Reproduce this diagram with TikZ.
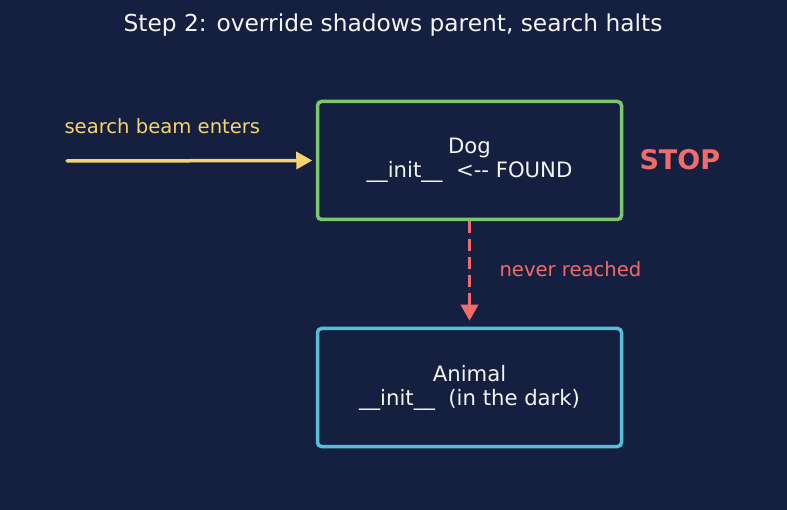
\documentclass[tikz,border=0pt]{standalone}
\usepackage{fontspec}
\setmainfont{DejaVu Sans}
\usetikzlibrary{positioning, arrows.meta}
\definecolor{bgnavy}{HTML}{152040}
\definecolor{ink}{HTML}{F4F4F4}
\definecolor{accentG}{HTML}{7BC86C}
\definecolor{accentB}{HTML}{56BEDB}
\definecolor{accentY}{HTML}{F5D36E}
\definecolor{accentR}{HTML}{F26B6B}

\begin{document}
\begin{tikzpicture}[
  x=1pt, y=-1pt,
  box/.style={rectangle, draw, line width=3.5pt, rounded corners=4pt,
              minimum width=304pt, minimum height=118pt,
              align=center, fill=bgnavy, text=ink,
              font=\fontsize{21.2}{24}\selectfont},
  lbl/.style={font=\fontsize{19.6}{22}\selectfont, anchor=west},
  arr/.style={-{Triangle[length=16pt, width=17pt]}, line width=3.5pt}
]
\fill[bgnavy] (0,0) rectangle (787,510);
\useasboundingbox (0,0) rectangle (787,510);

\node[text=ink, font=\fontsize{23.3}{28}\selectfont] (title) at (393,25)
  {Step 2: override shadows parent, search halts};

\node[box, draw=accentG] (dog) at (469.5,160.5) {Dog\\\_\_init\_\_\ \ <-{}- FOUND};
\node[box, draw=accentB] (animal) at (469.5,387.5) {Animal\\\_\_init\_\_\ \ (in the dark)};

\coordinate (beam) at (67,161);
\node[lbl, text=accentY] (beamlbl) at (61,126) {search beam enters};
\node[font=\bfseries\fontsize{27}{32}\selectfont, text=accentR, anchor=west] (stop) at (636,160) {STOP};

\draw[arr, draw=accentY, fill=accentY, line cap=round, shorten >=3.5pt] (beam) -- (dog.west);
\draw[arr, draw=accentR, fill=accentR, dash pattern=on 12pt off 6pt, shorten >=6pt]
  (dog.south) -- (animal.north);
\node[lbl, text=accentR] (never) at (496,269) {never reached};
\end{tikzpicture}
\end{document}
